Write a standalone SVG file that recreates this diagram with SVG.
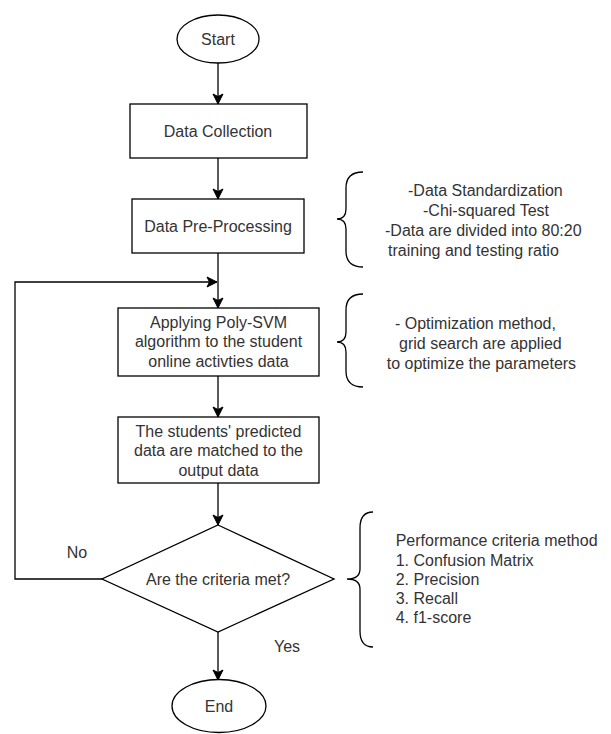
<svg xmlns="http://www.w3.org/2000/svg" width="611" height="734" viewBox="0 0 611 734">
<defs>
<style>
.shape{fill:#fff;stroke:#000;stroke-width:1.3}
.edge{fill:none;stroke:#000;stroke-width:1.3}
.brace{fill:none;stroke:#000;stroke-width:1.3}
text{font-family:"Liberation Sans",Arial,sans-serif;font-size:16px;fill:#333}
.c{text-anchor:middle}
</style>
<marker id="arr" markerUnits="userSpaceOnUse" markerWidth="12" markerHeight="12" viewBox="0 0 12 12" refX="11" refY="6" orient="auto">
<path d="M1,1 L11,6 L1,11 L3.5,6 z" fill="#000" stroke="#000" stroke-width="1"/>
</marker>
</defs>
<rect width="611" height="734" fill="#fff"/>
<g id="connectors">
<line class="edge" x1="218" y1="63" x2="218" y2="104" marker-end="url(#arr)"/>
<line class="edge" x1="218" y1="158" x2="218" y2="199" marker-end="url(#arr)"/>
<line class="edge" x1="218" y1="253" x2="218" y2="308" marker-end="url(#arr)"/>
<line class="edge" x1="218" y1="376" x2="218" y2="417" marker-end="url(#arr)"/>
<line class="edge" x1="218" y1="483" x2="218" y2="525" marker-end="url(#arr)"/>
<line class="edge" x1="218" y1="632" x2="218" y2="680" marker-end="url(#arr)"/>
<polyline class="edge" points="102,579 15,579 15,282 217,282" marker-end="url(#arr)"/>
<text class="c" x="77" y="557.5">No</text>
<text class="c" x="287" y="651.5">Yes</text>
</g>
<g id="start">
<ellipse class="shape" cx="218" cy="39" rx="41" ry="24"/>
<text class="c" x="218" y="45">Start</text>
</g>
<g id="data-collection">
<rect class="shape" x="130" y="104" width="177" height="54"/>
<text class="c" x="218" y="137">Data Collection</text>
</g>
<g id="pre-processing">
<rect class="shape" x="132" y="199" width="172" height="54"/>
<text class="c" x="218" y="232">Data Pre-Processing</text>
</g>
<g id="applying">
<rect class="shape" x="118" y="308" width="201" height="68"/>
<text class="c" x="218.5" y="327.5">Applying Poly-SVM</text>
<text class="c" x="218.5" y="347">algorithm to the student</text>
<text class="c" x="218.5" y="366.5">online activties data</text>
</g>
<g id="predicted">
<rect class="shape" x="118" y="417" width="201" height="66"/>
<text class="c" x="218.5" y="436.5">The students' predicted</text>
<text class="c" x="218.5" y="456">data are matched to the</text>
<text class="c" x="218.5" y="475.5">output data</text>
</g>
<g id="decision">
<polygon class="shape" points="218,525 334,579 218,632 102,579"/>
<text class="c" x="218" y="585">Are the criteria met?</text>
</g>
<g id="end">
<ellipse class="shape" cx="219" cy="706" rx="47" ry="26.5"/>
<text class="c" x="219" y="712">End</text>
</g>
<g id="note-preprocessing">
<path class="brace" d="M363,172 Q346,172 346,188 L346,209 Q346,219 337,219 Q346,219 346,229 L346,251 Q346,267 363,267"/>
<text x="408" y="196.3">-Data Standardization</text>
<text x="423" y="215.6">-Chi-squared Test</text>
<text x="385" y="235.6">-Data are divided into 80:20</text>
<text x="388" y="255.6">training and testing ratio</text>
</g>
<g id="note-optimization">
<path class="brace" d="M363,294 Q346,294 346,310 L346,332 Q346,342 337,342 Q346,342 346,352 L346,371 Q346,387 363,387"/>
<text x="395" y="328.6">- Optimization method,</text>
<text x="399" y="348.6">grid search are applied</text>
<text x="386.7" y="368.6">to optimize the parameters</text>
</g>
<g id="note-performance">
<path class="brace" d="M373,512 Q360,512 360,528 L360,569 Q360,579 347,579 Q360,579 360,589 L360,631 Q360,647 373,647"/>
<text x="395.7" y="546.3">Performance criteria method</text>
<text x="395.7" y="565.6">1. Confusion Matrix</text>
<text x="395.7" y="584.6">2. Precision</text>
<text x="395.7" y="603.6">3. Recall</text>
<text x="395.7" y="622.6">4. f1-score</text>
</g>
</svg>
